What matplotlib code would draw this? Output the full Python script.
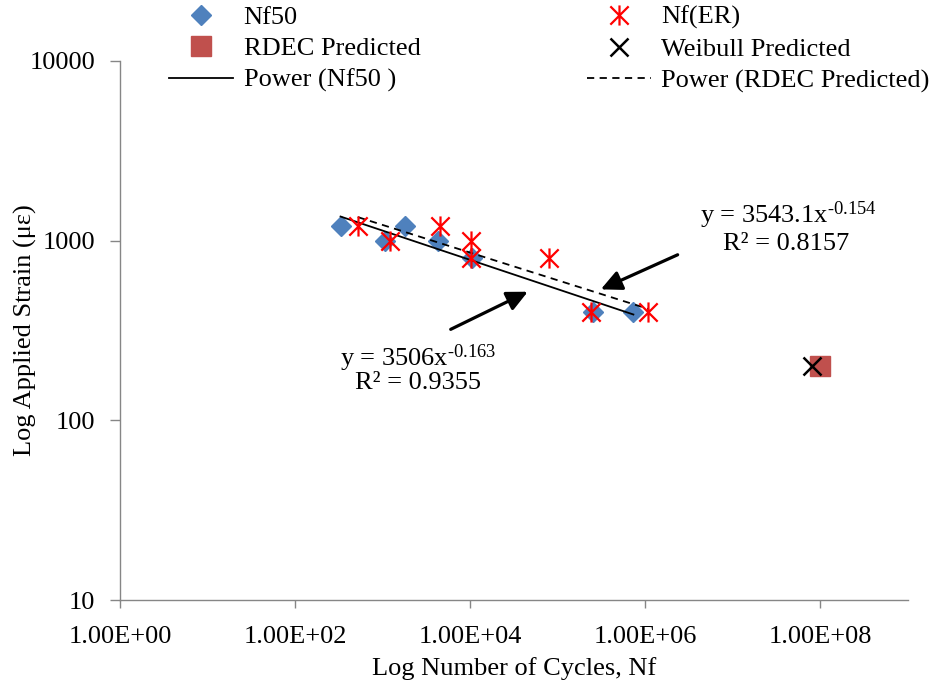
import numpy as np
import matplotlib
matplotlib.use('Agg')
import matplotlib.pyplot as plt
from matplotlib.path import Path

plt.rcParams['font.family'] = ['Liberation Serif', 'DejaVu Serif']
plt.rcParams['mathtext.fontset'] = 'custom'
plt.rcParams['mathtext.rm'] = 'Liberation Serif'
plt.rcParams['mathtext.it'] = 'Liberation Serif:italic'

# data
nf50_cycles = [330, 1070, 1800, 4300, 10500, 2.55e5, 7.3e5]
nf50_strain = [1200, 1000, 1200, 1000, 800, 400, 400]

nfer_cycles = [520, 1220, 4500, 10300, 10300, 8.0e4, 2.4e5, 1.08e6]
nfer_strain = [1200, 1000, 1200, 1000, 800, 800, 400, 400]

rdec_cycles = [1.0e8]
rdec_strain = [200]
weibull_cycles = [8.1e7]
weibull_strain = [200]

# power trendlines shown on chart
fit1_a, fit1_b, fit1_r2 = 3506, -0.163, 0.9355
fit2_a, fit2_b, fit2_r2 = 3543.1, -0.154, 0.8157

# asterisk marker like excel
star = Path([(-1, -1), (1, 1), (-1, 1), (1, -1), (0, -1.1), (0, 1.1)],
            [Path.MOVETO, Path.LINETO, Path.MOVETO, Path.LINETO, Path.MOVETO, Path.LINETO])

fs = 19

fig = plt.figure(figsize=(9.38, 6.9), dpi=100)
ax = fig.add_axes([0.128, 0.1304, 0.84, 0.7812])

x1 = np.array([min(nf50_cycles), max(nf50_cycles)])
x2 = np.array([min(nfer_cycles), max(nfer_cycles)])
l_fit1, = ax.plot(x1, fit1_a * x1 ** fit1_b, color='black', lw=1.3, zorder=3)
l_fit2, = ax.plot(x2, fit2_a * x2 ** fit2_b, color='black', lw=1.3, ls=(0, (4, 3)), zorder=3)

h_nf50, = ax.plot(nf50_cycles, nf50_strain, 'D', color='#4F81BD', ms=10.5, mec='#4F81BD', ls='none', zorder=2)
h_nfer, = ax.plot(nfer_cycles, nfer_strain, marker=star, color='red', ms=14.5, mew=1.6,
                  mfc='none', ls='none', zorder=4)
h_rdec, = ax.plot(rdec_cycles, rdec_strain, 's', color='#C0504D', ms=14, ls='none', zorder=2)
h_weib, = ax.plot(weibull_cycles, weibull_strain, 'x', color='black', ms=13, mew=1.8, ls='none', zorder=3)

ax.set_xscale('log')
ax.set_yscale('log')
ax.set_xlim(1, 1e9)
ax.set_ylim(10, 10000)
ax.set_xticks([1, 1e2, 1e4, 1e6, 1e8])
ax.set_xticklabels(['1.00E+00', '1.00E+02', '1.00E+04', '1.00E+06', '1.00E+08'])
ax.set_yticks([10, 100, 1000, 10000])
ax.set_yticklabels(['10', '100', '1000', '10000'])
ax.minorticks_off()
ax.tick_params(axis='x', length=6, width=1, color='#868686', labelsize=fs, pad=13)
ax.tick_params(axis='y', length=7, width=1, color='#868686', labelsize=fs, pad=11)
for s in ['top', 'right']:
    ax.spines[s].set_visible(False)
for s in ['left', 'bottom']:
    ax.spines[s].set_color('#868686')
    ax.spines[s].set_linewidth(1)

ax.set_xlabel('Log Number of Cycles, Nf', fontsize=fs, labelpad=6)
ax.set_ylabel('Log Applied Strain (με)', fontsize=fs)
ax.yaxis.set_label_coords(-0.105, 0.5)

# equations with arrows
arrow = dict(arrowstyle='-|>,head_length=1.25,head_width=0.6', color='black', lw=2.3)
ax.annotate('', xy=(4.85e4, 528), xytext=(5600, 316), arrowprops=arrow)
ax.annotate('', xy=(2.9e5, 528), xytext=(2.5e6, 847), arrowprops=arrow)
ax.text(2550, 221, r'y = %gx$^{\text{%g}}$' % (fit1_a, fit1_b), fontsize=fs, ha='center', va='center')
ax.text(2550, 161, 'R² = %.4f' % fit1_r2, fontsize=fs, ha='center', va='center')
ax.text(4.3e7, 1377, r'y = %gx$^{\text{%g}}$' % (fit2_a, fit2_b), fontsize=fs, ha='center', va='center')
ax.text(4.1e7, 962, 'R² = %.4f' % fit2_r2, fontsize=fs, ha='center', va='center')

handles = [h_nf50, h_rdec, l_fit1, h_nfer, h_weib, l_fit2]
labels = ['Nf50', 'RDEC Predicted', 'Power (Nf50 )', 'Nf(ER)', 'Weibull Predicted', 'Power (RDEC Predicted)']
fig.legend(handles, labels, ncol=2, loc='upper left', bbox_to_anchor=(0.18, 0.992),
           frameon=False, fontsize=fs, handlelength=2.45, handletextpad=0.38,
           columnspacing=6.3, labelspacing=0.3, borderpad=0, borderaxespad=0)

fig.savefig('out.png', dpi=100)
